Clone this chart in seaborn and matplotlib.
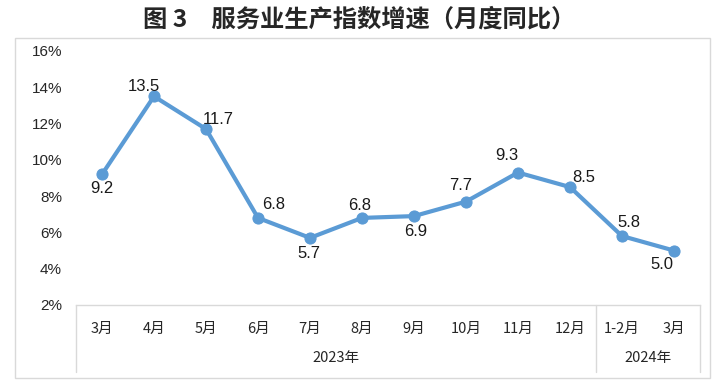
import pandas as pd
import matplotlib.pyplot as plt
import seaborn as sns
from matplotlib.patches import Rectangle
from matplotlib.transforms import blended_transform_factory

sns.set_style('white')
plt.rcParams['font.family'] = ['Noto Sans CJK SC', 'DejaVu Sans']

# === DATA ===
months = ['3月', '4月', '5月', '6月', '7月', '8月', '9月', '10月', '11月', '12月', '1-2月', '3月']
growth = [9.2, 13.5, 11.7, 6.8, 5.7, 6.8, 6.9, 7.7, 9.3, 8.5, 5.8, 5.0]
years = ['2023年', '2024年']
year_counts = [10, 2]
# label offsets (points) for each data label
label_offsets = [(0, -10.5), (-7, 7), (9, 6.5), (11, 9.5), (-1, -11.5), (-2, 9),
                 (1, -11), (-4, 11.5), (-8, 12.5), (10, 7), (5, 9.5), (-9, -10)]

df = pd.DataFrame({'pos': range(len(months)), 'growth': growth})

fig = plt.figure(figsize=(7.19, 3.92), dpi=100)
ax = fig.add_axes([76 / 719, 1 - 305 / 392, 624 / 719, 254 / 392])

sns.lineplot(data=df, x='pos', y='growth', color='#5B9BD5', linewidth=3,
             marker='o', markersize=8, markeredgecolor='#5B9BD5', ax=ax)

for i, v in enumerate(growth):
    dx, dy = label_offsets[i]
    ax.annotate(f'{v:.1f}', (i, v), xytext=(dx, dy), textcoords='offset points',
                ha='center', va='center', fontsize=12, color='#1a1a1a',
                family=['Liberation Sans', 'DejaVu Sans'])

ax.set_xlim(-0.5, len(months) - 0.5)
ax.set_ylim(2, 16)
ax.set_yticks(range(2, 17, 2))
ax.set_yticklabels([f'{t}%' for t in range(2, 17, 2)], fontsize=11,
                   family=['Liberation Sans', 'DejaVu Sans'])
ax.set_xticks(range(len(months)))
ax.set_xticklabels(months, fontsize=10.5)
ax.tick_params(axis='x', length=0, pad=12)
ax.tick_params(axis='y', length=0, pad=10)
ax.set_xlabel('')
ax.set_ylabel('')
for s in ['left', 'right', 'top']:
    ax.spines[s].set_visible(False)
ax.spines['bottom'].set_color('#D9D9D9')
ax.spines['bottom'].set_linewidth(1)

# grouped year axis
trans = blended_transform_factory(ax.transData, ax.transAxes)
start = -0.5
ax.plot([start, start], [0, -0.264], transform=trans, color='#D9D9D9', lw=1, clip_on=False)
for yr, cnt in zip(years, year_counts):
    end = start + cnt
    ax.plot([end, end], [0, -0.264], transform=trans, color='#D9D9D9', lw=1, clip_on=False)
    ax.text((start + end) / 2, -0.21, yr, transform=trans, ha='center', va='center',
            fontsize=10.5)
    start = end

fig.text(0.5, 1 - 20 / 392, '图 3　服务业生产指数增速（月度同比）', ha='center', va='center',
         fontsize=17.5, fontweight='bold')
fig.patches.append(Rectangle((15 / 719, 1 - 378 / 392), 695 / 719, 340 / 392,
                             transform=fig.transFigure, fill=False,
                             edgecolor='#D9D9D9', lw=1))

plt.savefig('out.png', dpi=100)
